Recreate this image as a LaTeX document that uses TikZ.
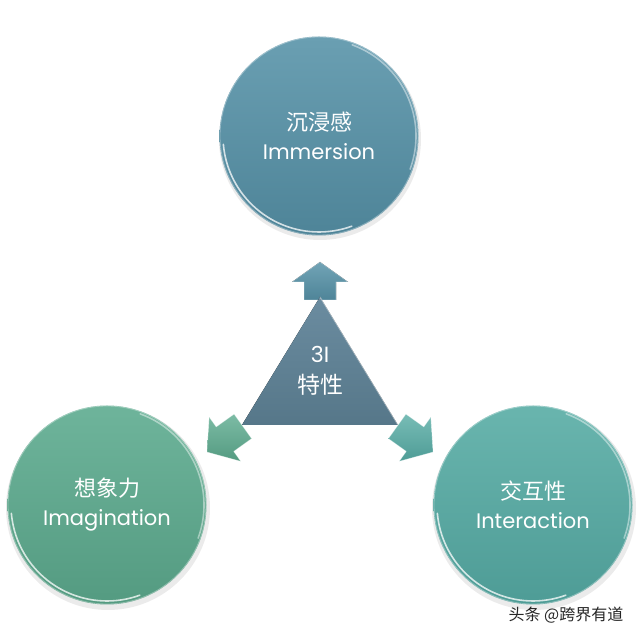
\documentclass[tikz,border=0pt]{standalone}
\usepackage{fontspec}
\setmainfont{Poppins}
\newfontfamily\cjk{Noto Sans CJK SC}
\usetikzlibrary{calc}
\definecolor{imTop}{HTML}{6A9FB2}
\definecolor{imBot}{HTML}{4E8498}
\definecolor{igTop}{HTML}{6EB49B}
\definecolor{igBot}{HTML}{549B81}
\definecolor{inTop}{HTML}{69B5AE}
\definecolor{inBot}{HTML}{4E9C96}
\definecolor{trTop}{HTML}{6B8CA0}
\definecolor{trBot}{HTML}{567789}
\begin{document}
\begin{tikzpicture}[x=1pt,y=1pt,
  ball/.style={circle, minimum size=199pt, inner sep=0pt, text=white, align=center,
    font=\fontsize{21}{29}\selectfont},
  rim/.style={white, opacity=0.75, line width=1.6pt, line cap=round},
  shade/.style={black, opacity=0.08},
  blockarrow/.style={draw=white, draw opacity=0.35, line width=0.6pt, line join=round},
  tag/.style={text=white, align=center}
]
\fill[white] (0,0) rectangle (640,639);
\useasboundingbox (0,0) rectangle (640,639);

% soft shadows
\fill[shade] (320,500) circle (101);
\fill[shade] (108,131) circle (102);
\fill[shade] (534,131) circle (102);

% circles
\node[ball, top color=imTop, bottom color=imBot] (imm) at (319,503)
  {{\cjk\fontsize{22}{29}\selectfont 沉浸感}\\Immersion};
\node[ball, top color=igTop, bottom color=igBot] (ima) at (107,134)
  {{\cjk\fontsize{22}{29}\selectfont 想象力}\\Imagination};
\node[ball, top color=inTop, bottom color=inBot] (int) at (533,134)
  {{\cjk\fontsize{22}{29}\selectfont 交互性}\\Interaction};

% glossy rims
\foreach \c in {imm,ima,int}{
  \draw[white, opacity=0.35, line width=0.8pt] (\c.center) circle (99);
  \draw[rim] ($(\c.center)+(185:96)$) arc[start angle=185, end angle=290, radius=96];
  \draw[rim, opacity=0.45] ($(\c.center)+(-20:97)$) arc[start angle=-20, end angle=70, radius=97];
}

% block arrows
\fill[blockarrow, top color=imTop!95!white, bottom color=imBot] (320,377) -- (348,357) -- (336,357) -- (336,339)
  -- (304,339) -- (304,357) -- (292,357) -- cycle;
\draw[blockarrow, top color=igTop!90!white, bottom color=igBot] (207,187) -- (209.2,221.8) -- (216.2,212.0) -- (234.1,224.8)
  -- (251.5,200.4) -- (233.6,187.6) -- (240.6,177.8) -- cycle;
\draw[blockarrow, top color=inTop!90!white, bottom color=inBot] (433,187) -- (430.8,221.8) -- (423.8,212.0) -- (405.9,224.8)
  -- (388.5,200.4) -- (406.4,187.6) -- (399.4,177.8) -- cycle;

% central triangle
\coordinate (apex) at (320,342);
\coordinate (bl) at (242,214);
\coordinate (br) at (398,214);
\fill[top color=trTop, bottom color=trBot] (apex) -- (br) -- (bl) -- cycle;
\draw[white, opacity=0.45, line width=1pt] (apex) -- (br);
\node[tag, font=\fontsize{22}{31}\selectfont] (tri) at (320,268)
  {3I\\{\cjk\fontsize{23}{31}\selectfont 特性}};

% watermark
\node[text=black!85, font=\cjk\fontsize{16}{18}\selectfont] (wm) at (566,24) {头条 @跨界有道};
\end{tikzpicture}
\end{document}
